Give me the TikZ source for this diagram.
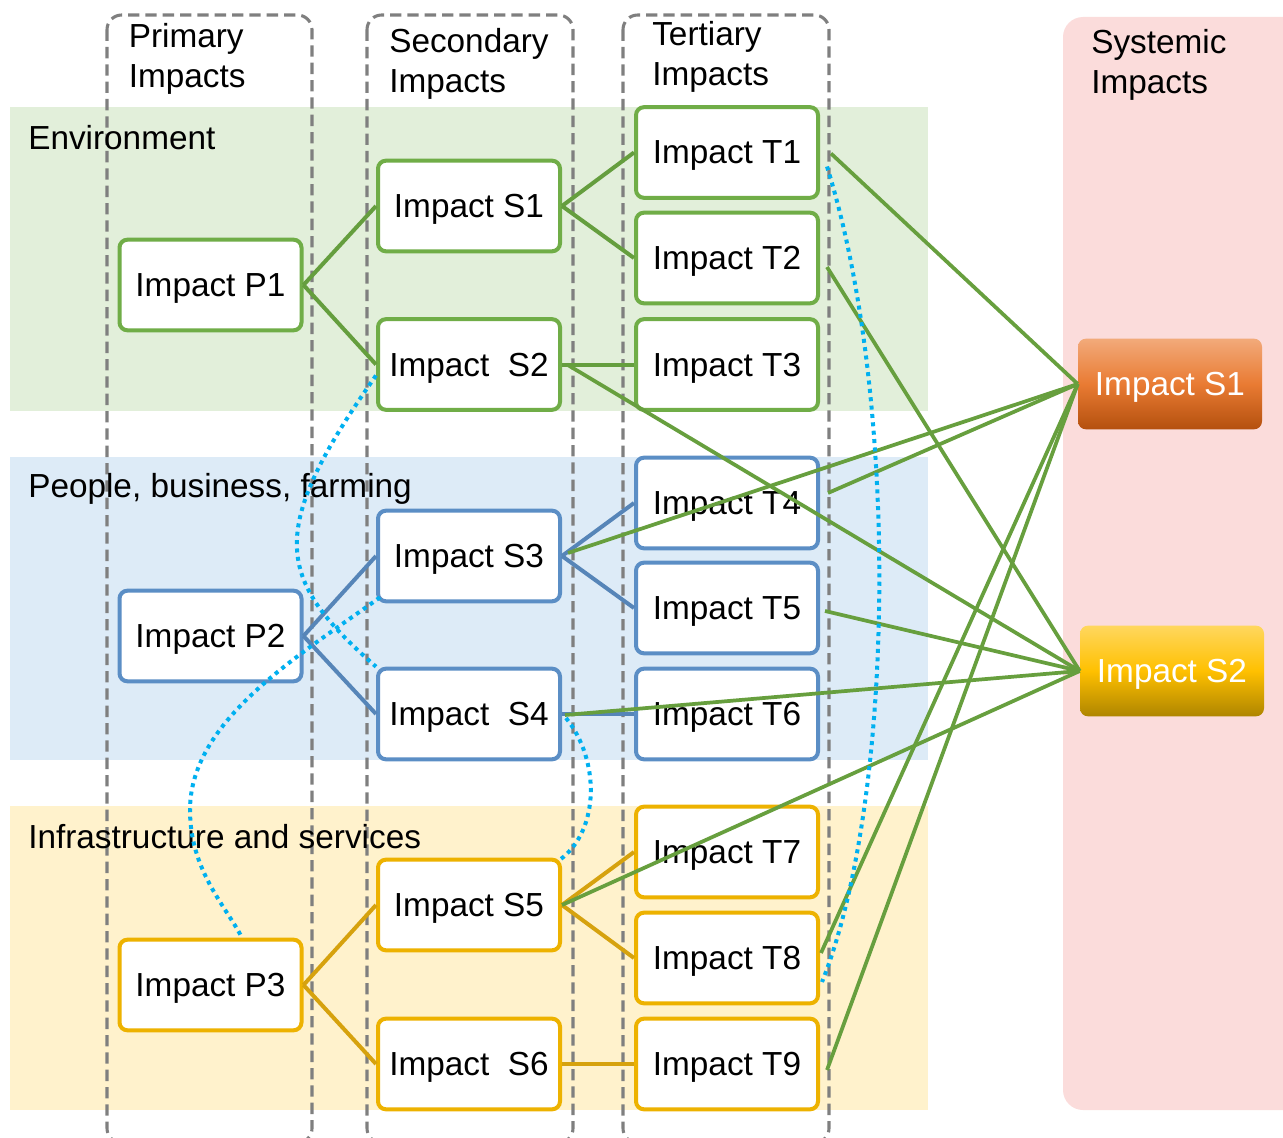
\documentclass[tikz,border=0pt]{standalone}
\usepackage{fontspec}
\setmainfont{Liberation Sans}
\usetikzlibrary{calc}

\definecolor{envband}{HTML}{E2EFDA}
\definecolor{peopleband}{HTML}{DDEBF7}
\definecolor{infraband}{HTML}{FFF2CC}
\definecolor{sysband}{HTML}{FBDCDB}
\definecolor{colgray}{HTML}{7F7F7F}
\definecolor{envborder}{HTML}{70AD47}
\definecolor{envlink}{HTML}{659E3E}
\definecolor{peopleborder}{HTML}{5B8EC5}
\definecolor{peoplelink}{HTML}{5685B8}
\definecolor{infraborder}{HTML}{EDB200}
\definecolor{infralink}{HTML}{D6A20E}
\definecolor{crossgreen}{HTML}{679F3E}
\definecolor{dotblue}{HTML}{00B0F0}
\definecolor{orangetop}{HTML}{F2AA7A}
\definecolor{orangemid}{HTML}{E97B33}
\definecolor{orangebot}{HTML}{B4500E}
\definecolor{goldtop}{HTML}{FFD75E}
\definecolor{goldmid}{HTML}{FFC000}
\definecolor{goldbot}{HTML}{AE8500}

\begin{document}
\begin{tikzpicture}[x=0.75pt, y=-0.75pt,
  font=\fontsize{25}{30}\selectfont,
  box/.style={draw, fill=white, line width=3pt, rounded corners=6pt,
    minimum width=136.5pt, minimum height=68pt, inner sep=0pt, text depth=0pt},
  envbox/.style={box, draw=envborder},
  peoplebox/.style={box, draw=peopleborder},
  infrabox/.style={box, draw=infraborder},
  sysbox/.style={rounded corners=6pt, minimum width=138pt, minimum height=68pt,
    inner sep=0pt, text depth=0pt, text=white},
  impactcol/.style={draw=colgray, line width=2.3pt, dash pattern=on 8.5pt off 4.5pt,
    rounded corners=11pt},
  heading/.style={anchor=north west, align=left, inner sep=0pt},
  bandlabel/.style={anchor=base west, inner sep=0pt},
  envlinkstyle/.style={draw=envlink, line width=3pt},
  peoplelinkstyle/.style={draw=peoplelink, line width=3pt},
  infralinkstyle/.style={draw=infralink, line width=3pt},
  cross/.style={draw=crossgreen, line width=2.8pt},
  influence/.style={draw=dotblue, line width=3pt, dash pattern=on 3pt off 3.3pt}]

\useasboundingbox (0,0) rectangle (1283,1138);
\clip (0,0) rectangle (1283,1138);

% theme bands
\fill[envband] (10,107) rectangle (928,411);
\fill[peopleband] (10,457) rectangle (928,760);
\fill[infraband] (10,806) rectangle (928,1110);
\fill[sysband, rounded corners=15pt] (1063,17) rectangle (1330,1110);

% impact order columns
\draw[impactcol] (107,15) rectangle (312,1143);
\draw[impactcol] (367,15) rectangle (573,1143);
\draw[impactcol] (623,15) rectangle (829,1143);

% headings
\node[heading] (primhead) at (128.5,23) {Primary\\Impacts};
\node[heading] (sechead) at (389,28) {Secondary\\Impacts};
\node[heading] (terthead) at (652,21) {Tertiary\\Impacts};
\node[heading] (syshead) at (1091,29) {Systemic\\Impacts};

\node[bandlabel] (envlabel) at (28,150) {Environment};
\node[bandlabel] (peoplelabel) at (28,497) {People, business, farming};
\node[bandlabel] (infralabel) at (28,848) {Infrastructure and services};

% impact boxes
\node[envbox] (P1) at (210.5,285) {Impact P1};
\node[envbox] (S1) at (469,206) {Impact S1};
\node[envbox] (S2) at (469,364.5) {Impact\ \ S2};
\node[envbox] (T1) at (727,152.5) {Impact T1};
\node[envbox] (T2) at (727,258) {Impact T2};
\node[envbox] (T3) at (727,364.5) {Impact T3};

\node[peoplebox] (P2) at (210.5,636) {Impact P2};
\node[peoplebox] (S3) at (469,556) {Impact S3};
\node[peoplebox] (S4) at (469,714) {Impact\ \ S4};
\node[peoplebox] (T4) at (727,503) {Impact T4};
\node[peoplebox] (T5) at (727,608) {Impact T5};
\node[peoplebox] (T6) at (727,714) {Impact T6};

\node[infrabox] (P3) at (210.5,985) {Impact P3};
\node[infrabox] (S5) at (469,905) {Impact S5};
\node[infrabox] (S6) at (469,1064) {Impact\ \ S6};
\node[infrabox] (T7) at (727,852) {Impact T7};
\node[infrabox] (T8) at (727,958) {Impact T8};
\node[infrabox] (T9) at (727,1064) {Impact T9};

\node[sysbox, top color=orangetop, bottom color=orangebot, middle color=orangemid]
  (Y1) at (1170,384) {Impact S1};
\node[sysbox, top color=goldtop, bottom color=goldbot, middle color=goldmid]
  (Y2) at (1172,671) {Impact S2};

% links inside each theme
\draw[envlinkstyle] (P1.east) -- (S1.west);
\draw[envlinkstyle] (P1.east) -- (S2.west);
\draw[envlinkstyle] (S1.east) -- (T1.west);
\draw[envlinkstyle] (S1.east) -- (T2.west);
\draw[envlinkstyle] (S2.east) -- (T3.west);

\draw[peoplelinkstyle] (P2.east) -- (S3.west);
\draw[peoplelinkstyle] (P2.east) -- (S4.west);
\draw[peoplelinkstyle] (S3.east) -- (T4.west);
\draw[peoplelinkstyle] (S3.east) -- (T5.west);
\draw[peoplelinkstyle] (S4.east) -- (T6.west);

\draw[infralinkstyle] (P3.east) -- (S5.west);
\draw[infralinkstyle] (P3.east) -- (S6.west);
\draw[infralinkstyle] (S5.east) -- (T7.west);
\draw[infralinkstyle] (S5.east) -- (T8.west);
\draw[infralinkstyle] (S6.east) -- (T9.west);

% links into systemic impacts
\draw[cross] ($(T1.east)+(11,1)$) -- (Y1.west);
\draw[cross] ($(T4.east)+(8,-10)$) -- (Y1.west);
\draw[cross] ($(S3.east)+(6,-3)$) -- (Y1.west);
\draw[cross] ($(T8.east)+(1,-5)$) -- (Y1.west);
\draw[cross] ($(T9.east)+(7,6)$) -- (Y1.west);

\draw[cross] ($(T2.east)+(7,9)$) -- (Y2.west);
\draw[cross] ($(S2.east)+(5,0)$) -- (Y2.west);
\draw[cross] ($(T5.east)+(5,3)$) -- (Y2.west);
\draw[cross] ($(S4.east)+(3,1)$) -- (Y2.west);
\draw[cross] (S5.east) -- (Y2.west);

% cross-theme influences
\draw[influence] ($(S2.west)+(0,11)$) .. controls (266,532) and (275,578) .. (S4.north west);
\draw[influence] ($(S3.south west)+(4,-6)$) .. controls (300,655) and (190,720) .. (190,810)
  .. controls (190,870) and (225,905) .. ($(P3.north)+(31.5,0)$);
\draw[influence] ($(S4.east)+(4,4)$) .. controls (600,760) and (600,830) .. ($(S5.north east)+(-2,2)$);
\draw[influence] ($(T1.east)+(7,14)$) .. controls (900,400) and (895,800) .. ($(T8.east)+(2,24)$);

\end{tikzpicture}
\end{document}
